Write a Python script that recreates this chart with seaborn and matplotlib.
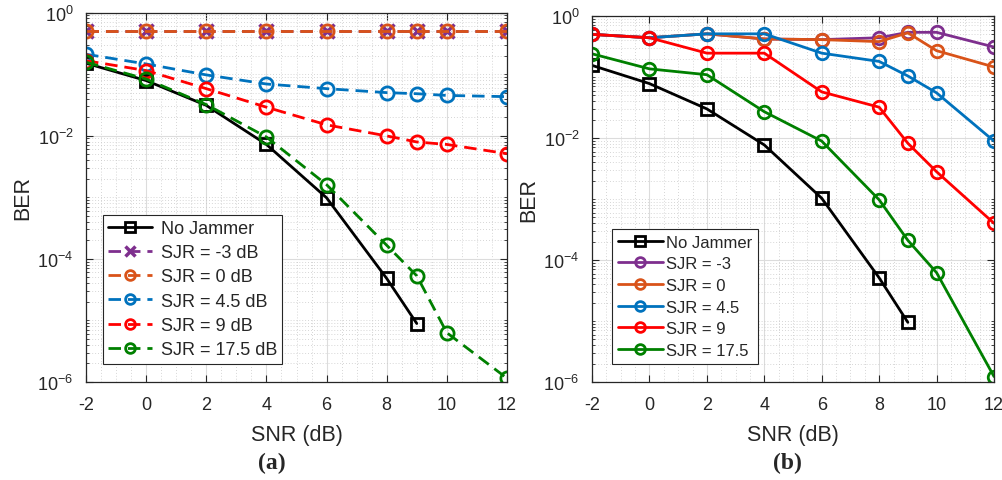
import numpy as np
import pandas as pd
import matplotlib
matplotlib.use("Agg")
import matplotlib.pyplot as plt
import seaborn as sns
from matplotlib.ticker import LogLocator, FixedLocator, MultipleLocator, LogFormatterMathtext, NullFormatter

sns.set_theme(style="ticks")
plt.rcParams['font.family'] = ['Liberation Sans', 'DejaVu Sans']
plt.rcParams['mathtext.fontset'] = 'custom'
plt.rcParams['mathtext.rm'] = 'Liberation Sans'
plt.rcParams['mathtext.it'] = 'Liberation Sans'
plt.rcParams['axes.unicode_minus'] = False

# ---------------- data ----------------
snr_full = [-2, 0, 2, 4, 6, 8, 9, 10, 12]
snr_nojam = [-2, 0, 2, 4, 6, 8, 9]

# (a)
a_nojam = [0.15, 0.0785, 0.031, 0.0072, 0.00098, 4.8e-5, 8.9e-6]
a_sjr_m3 = [0.5, 0.5, 0.5, 0.5, 0.5, 0.5, 0.5, 0.5, 0.5]
a_sjr_0 = [0.5, 0.5, 0.5, 0.5, 0.5, 0.5, 0.5, 0.5, 0.5]
a_sjr_45 = [0.21, 0.146, 0.097, 0.069, 0.058, 0.050, 0.048, 0.045, 0.043]
a_sjr_9 = [0.165, 0.114, 0.058, 0.029, 0.015, 0.0099, 0.0079, 0.0072, 0.0051]
a_sjr_175 = [0.156, 0.083, 0.032, 0.0095, 0.0016, 1.66e-4, 5.3e-5, 6.3e-6, 1.15e-6]

# (b)
b_nojam = [0.155, 0.078, 0.030, 0.0077, 0.00103, 5.1e-5, 9.5e-6]
b_sjr_m3 = [0.5, 0.44, 0.51, 0.42, 0.41, 0.44, 0.54, 0.54, 0.31]
b_sjr_0 = [0.5, 0.44, 0.51, 0.42, 0.41, 0.38, 0.53, 0.27, 0.146]
b_sjr_45 = [0.5, 0.44, 0.51, 0.51, 0.246, 0.18, 0.104, 0.055, 0.0089]
b_sjr_9 = [0.50, 0.44, 0.246, 0.246, 0.057, 0.032, 0.0082, 0.0028, 4.0e-4]
b_sjr_175 = [0.24, 0.136, 0.109, 0.027, 0.0089, 9.7e-4, 2.1e-4, 6.2e-5, 1.23e-6]

labels_a = ["No Jammer", "SJR = -3 dB", "SJR = 0 dB", "SJR = 4.5 dB", "SJR = 9 dB", "SJR = 17.5 dB"]
labels_b = ["No Jammer", "SJR = -3", "SJR = 0", "SJR = 4.5", "SJR = 9", "SJR = 17.5"]

C_BLACK = "#000000"
C_PURPLE = "#7E2F8E"
C_ORANGE = "#D95319"
C_BLUE = "#0072BD"
C_RED = "#FF0000"
C_GREEN = "#008000"

W, H = 1002, 481
fig = plt.figure(figsize=(W / 100, H / 100), dpi=100)
axA = fig.add_axes([86 / W, 1 - 383 / H, 421 / W, (383 - 13.5) / H])
axB = fig.add_axes([592 / W, 1 - 383 / H, 402 / W, (383 - 17) / H])


def draw(ax, x, y, color, marker, ls, label, ms=9, mew=2.0, lw=2.0):
    kw = dict(x=x, y=y, ax=ax, color=color, label=label, linewidth=lw,
              marker=marker, markersize=ms, markeredgewidth=mew,
              markeredgecolor=color, markerfacecolor='none')
    sns.lineplot(**kw)
    l = ax.get_lines()[-1]
    if ls == '--':
        l.set_linestyle((0, (4.5, 2.5)))
    l.set_markerfacecolor('none')
    l.set_markeredgecolor(color)
    return l


# Panel (a)
draw(axA, snr_nojam, a_nojam, C_BLACK, 's', '-', labels_a[0], ms=8)
draw(axA, snr_full, a_sjr_m3, C_PURPLE, 'x', '--', labels_a[1], ms=10, mew=2.5)
draw(axA, snr_full, a_sjr_0, C_ORANGE, 'o', '--', labels_a[2], ms=9.5)
draw(axA, snr_full, a_sjr_45, C_BLUE, 'o', '--', labels_a[3], ms=9.5)
draw(axA, snr_full, a_sjr_9, C_RED, 'o', '--', labels_a[4], ms=9.5)
draw(axA, snr_full, a_sjr_175, C_GREEN, 'o', '--', labels_a[5], ms=9.5)

# Panel (b)
draw(axB, snr_nojam, b_nojam, C_BLACK, 's', '-', labels_b[0], ms=8)
draw(axB, snr_full, b_sjr_m3, C_PURPLE, 'o', '-', labels_b[1], ms=9)
draw(axB, snr_full, b_sjr_0, C_ORANGE, 'o', '-', labels_b[2], ms=9)
draw(axB, snr_full, b_sjr_45, C_BLUE, 'o', '-', labels_b[3], ms=9)
draw(axB, snr_full, b_sjr_9, C_RED, 'o', '-', labels_b[4], ms=9)
draw(axB, snr_full, b_sjr_175, C_GREEN, 'o', '-', labels_b[5], ms=9)

for ax in (axA, axB):
    ax.set_yscale('log')
    ax.set_xlim(-2, 12)
    ax.set_ylim(1e-6, 1)
    ax.xaxis.set_major_locator(FixedLocator([-2, 0, 2, 4, 6, 8, 10, 12]))
    ax.xaxis.set_minor_locator(MultipleLocator(0.5))
    ax.yaxis.set_major_locator(FixedLocator([1e-6, 1e-4, 1e-2, 1]))
    ax.yaxis.set_major_formatter(LogFormatterMathtext())
    ax.yaxis.set_minor_locator(LogLocator(base=10, subs=np.arange(1, 10), numticks=20))
    ax.yaxis.set_minor_formatter(NullFormatter())
    ax.grid(True, which='major', color='#dcdcdc', linewidth=0.8, linestyle='-')
    ax.grid(True, which='minor', color='#c8c8c8', linewidth=0.6, linestyle=(0, (1, 2.5)))
    ax.set_axisbelow(True)
    ax.tick_params(which='both', direction='in', top=True, right=True,
                   labelsize=13, colors='#262626')
    ax.tick_params(axis='x', which='major', pad=10)
    ax.tick_params(axis='y', which='major', pad=9)
    ax.tick_params(which='major', length=5, width=0.8)
    ax.tick_params(which='minor', length=2.5, width=0.6)
    ax.tick_params(axis='x', which='minor', length=0)
    for s in ax.spines.values():
        s.set_color('#262626')
        s.set_linewidth(0.9)
    ax.set_xlabel('SNR (dB)', fontsize=15.5, color='#262626', labelpad=8)
    ax.set_ylabel('BER', fontsize=15.5, color='#262626', labelpad=3)

legA = axA.legend(loc='lower left', bbox_to_anchor=(0.04, 0.05), fontsize=13, frameon=True,
                  fancybox=False, edgecolor='#262626', framealpha=1, handlelength=2.4,
                  handletextpad=0.5, borderpad=0.3, labelspacing=0.4, borderaxespad=0)
legA.get_frame().set_linewidth(0.8)
legB = axB.legend(loc='lower left', bbox_to_anchor=(0.05, 0.05), fontsize=12, frameon=True,
                  fancybox=False, edgecolor='#262626', framealpha=1, handlelength=2.7,
                  handletextpad=0.2, borderpad=0.35, labelspacing=0.4, borderaxespad=0)
legB.get_frame().set_linewidth(0.8)
for leg in (legA, legB):
    for h in leg.legend_handles:
        h.set_markerfacecolor('none')
        h.set_markersize(7)

fig.text(272 / W, 1 - 463 / H, '(a)', ha='center', va='center', fontsize=17,
         fontweight='bold', family='Liberation Serif')
fig.text(787 / W, 1 - 463 / H, '(b)', ha='center', va='center', fontsize=17,
         fontweight='bold', family='Liberation Serif')

fig.savefig('out.png', dpi=100, facecolor='white')
